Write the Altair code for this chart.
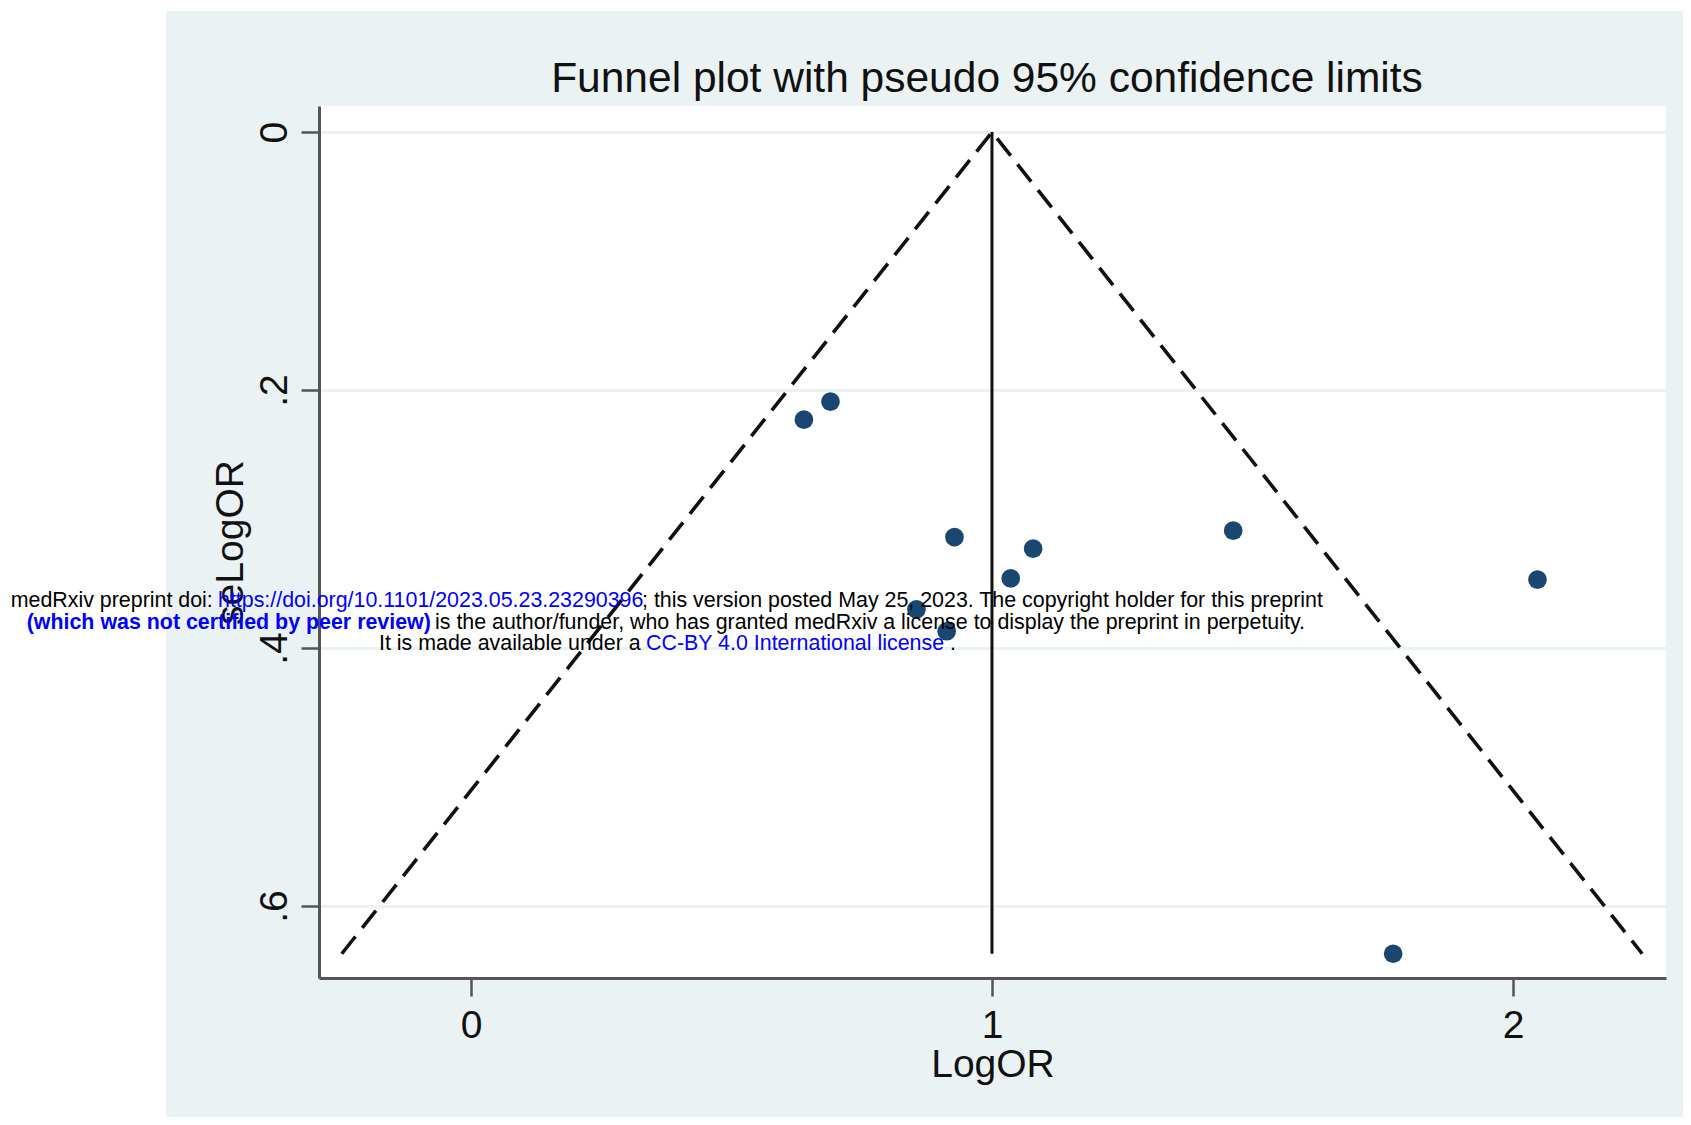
import altair as alt
import pandas as pd

# ---- data ----
study_logor = [0.639, 0.690, 0.928, 1.079, 1.036, 1.463, 2.047, 0.855, 0.913, 1.770]
study_se = [0.223, 0.209, 0.314, 0.323, 0.346, 0.309, 0.347, 0.370, 0.387, 0.637]
funnel_logor = [-0.248, 1.0, 2.248]
funnel_se = [0.637, 0.0, 0.637]
pooled_logor = [1.0]
pooled_se_top = [0.0]
pooled_se_bottom = [0.637]
x_ticks = [0, 1, 2]
x_tick_labels = ["0", "1", "2"]
y_ticks = [0, 0.2, 0.4, 0.6]
y_tick_labels = ["0", ".2", ".4", ".6"]

title_text = "Funnel plot with pseudo 95% confidence limits"
x_title = "LogOR"
y_title = "seLogOR"

FONT = "Liberation Sans"
BG = "#EAF2F3"
NAVY = "#1A476F"
AXIS_GRAY = "#555555"
TXT = "#111111"
BLUE = "#0000FF"

# page geometry (plot area origin on page)
PL, PT = 319, 106
W, H = 1347, 872
TOTAL_W, TOTAL_H = 1675, 1109
PAD = {"left": PL - 8, "top": PT - 8,
       "right": TOTAL_W - (PL - 8) - W, "bottom": TOTAL_H - (PT - 8) - H}

points_df = pd.DataFrame({"LogOR": study_logor, "seLogOR": study_se})
funnel_df = pd.DataFrame({"LogOR": funnel_logor, "seLogOR": funnel_se})
pooled_df = pd.DataFrame({"LogOR": pooled_logor, "seLogOR": pooled_se_top, "se2": pooled_se_bottom})
one_row = pd.DataFrame({"k": [0]})


def label_expr(vals, labs):
    parts = " : ".join(f"datum.value == {v} ? '{l}'" for v, l in zip(vals, labs))
    return parts + " : ''"


x_scale = alt.Scale(domain=[-0.2917, 2.2937], nice=False, zero=False)
y_scale = alt.Scale(domain=[-0.0202, 0.6558], nice=False, zero=False, reverse=True)

x_axis = alt.Axis(
    values=x_ticks, labelExpr=label_expr(x_ticks, x_tick_labels), title=x_title, grid=False,
    tickSize=18, tickWidth=2.5, tickColor=AXIS_GRAY, domainColor=AXIS_GRAY, domainWidth=3,
    labelFont=FONT, labelFontSize=39, labelColor=TXT, labelPadding=10, labelFlush=False,
    titleFont=FONT, titleFontSize=39, titleFontWeight="normal", titleColor=TXT, titlePadding=0,
)
y_axis = alt.Axis(
    values=y_ticks, labelExpr=label_expr(y_ticks, y_tick_labels), title=y_title,
    grid=True, gridColor=BG, gridWidth=3,
    tickSize=18, tickWidth=2.5, tickColor=AXIS_GRAY, domainColor=AXIS_GRAY, domainWidth=3,
    labelFont=FONT, labelFontSize=39, labelColor=TXT, labelAngle=270, labelAlign="center",
    labelBaseline="alphabetic", labelPadding=15, labelFlush=False,
    titleFont=FONT, titleFontSize=39, titleFontWeight="normal", titleColor=TXT, titlePadding=5,
)

X = alt.X("LogOR:Q", scale=x_scale, axis=x_axis)
Y = alt.Y("seLogOR:Q", scale=y_scale, axis=y_axis)

# background decoration: white page strip left of / above the grey graph region
white_left = alt.Chart(one_row).mark_rect(color="white").encode(
    x=alt.value(-(PL - 8)), x2=alt.value(166 - PL), y=alt.value(-(PT - 8)), y2=alt.value(TOTAL_H + 8 - PT)
)
white_top = alt.Chart(one_row).mark_rect(color="white").encode(
    x=alt.value(166 - PL), x2=alt.value(TOTAL_W + 8 - PL), y=alt.value(-(PT - 8)), y2=alt.value(11 - PT)
)

funnel = alt.Chart(funnel_df).mark_line(color=TXT, strokeWidth=3.6, strokeDash=[22, 11]).encode(x=X, y=Y)
pooled = alt.Chart(pooled_df).mark_rule(color=TXT, strokeWidth=3).encode(x=X, y=Y, y2="se2:Q")
pts = alt.Chart(points_df).mark_circle(color=NAVY, opacity=1, size=350).encode(x=X, y=Y)

title = alt.Chart(one_row).mark_text(
    text=title_text, align="center", baseline="alphabetic", font=FONT, fontSize=42.5, color=TXT,
).encode(x=alt.value(987 - PL), y=alt.value(92 - PT))


def wm(text, px, py, color, bold=False):
    return alt.Chart(one_row).mark_text(
        text=text, align="left", baseline="alphabetic", font=FONT, fontSize=21.4,
        color=color, fontWeight="bold" if bold else "normal",
    ).encode(x=alt.value(px - PL), y=alt.value(py - PT))


L1, L2, L3 = 607, 628.5, 650
watermark = [
    wm("medRxiv preprint doi:", 10.7, L1, "black"),
    wm("https://doi.org/10.1101/2023.05.23.23290396", 218, L1, BLUE),
    wm("; this version posted May 25, 2023. The copyright holder for this preprint", 642, L1, "black"),
    wm("(which was not certified by peer review)", 26.7, L2, BLUE, bold=True),
    wm("is the author/funder, who has granted medRxiv a license to display the preprint in perpetuity.", 435, L2, "black"),
    wm("It is made available under a", 379, L3, "black"),
    wm("CC-BY 4.0 International license", 646, L3, BLUE),
    wm(".", 950, L3, "black"),
]

chart = alt.layer(white_left, white_top, funnel, pooled, pts, title, *watermark).properties(
    width=W, height=H,
    padding=PAD,
    autosize=alt.AutoSizeParams(type="none"),
    background=BG,
).configure_view(fill="white", strokeWidth=0)

chart.save("out.html", embed_options={"renderer": "svg", "actions": False})
